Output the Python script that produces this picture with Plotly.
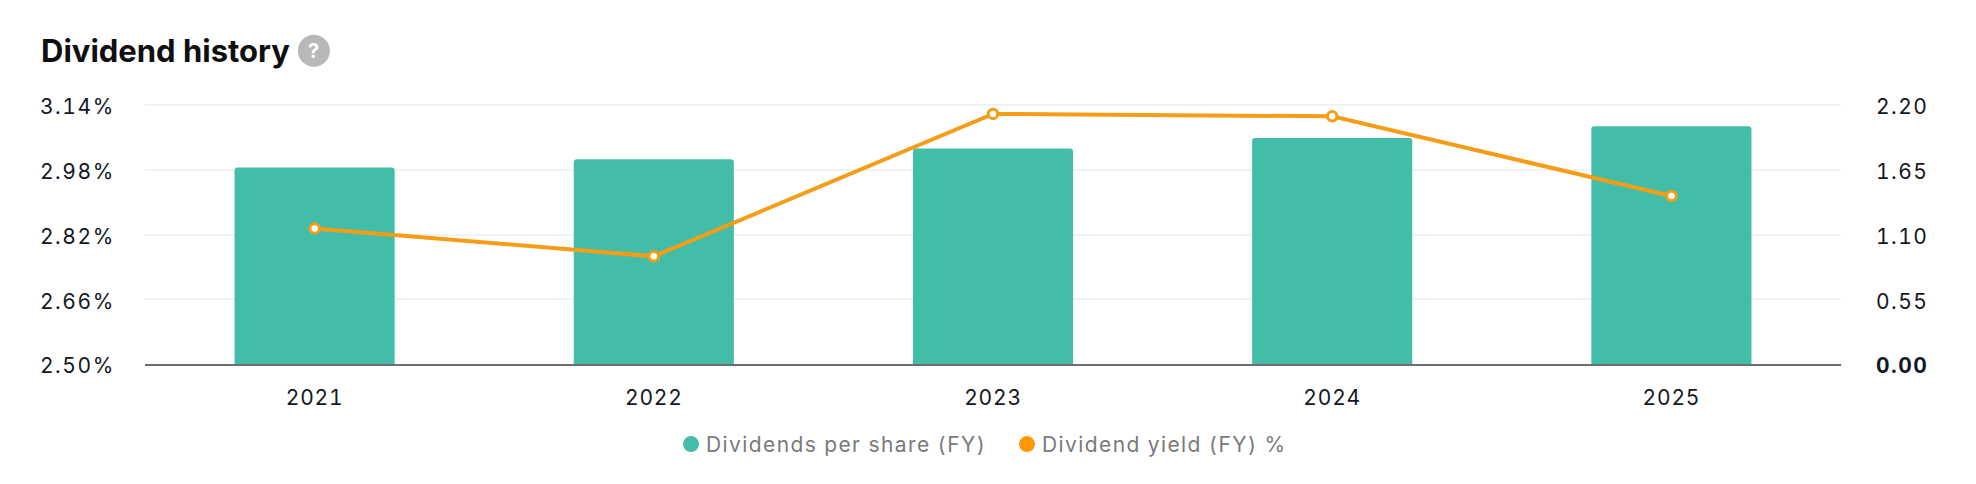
#!/usr/bin/env python3
"""Dividend history: dividends per share (bars) and dividend yield (line)."""
import plotly.graph_objects as go

# Data
YEARS = ['2021', '2022', '2023', '2024', '2025']
DIVIDENDS_PER_SHARE = [1.67, 1.74, 1.83, 1.92, 2.02]
DIVIDEND_YIELD = [2.835, 2.766, 3.118, 3.112, 2.915]

# Tick labels
YIELD_TICKS = [2.50, 2.66, 2.82, 2.98, 3.14]
YIELD_LABELS = ['2.50%', '2.66%', '2.82%', '2.98%', '3.14%']
DPS_TICKS = [0.00, 0.55, 1.10, 1.65, 2.20]
DPS_LABELS = ['0.00', '0.55', '1.10', '1.65', '2.20']

BAR_COLOR = '#42BDA8'
LINE_COLOR = '#F59D17'
LEGEND_ORANGE = '#FF9800'
TEXT_COLOR = '#131722'
FONT = 'Inter'


def spaced(text, px=1.6, drop=0):
    """Plotly has no letter spacing option, but span styles are passed on to the svg."""
    return (f'<span style="letter-spacing:{px}px;font-variant-numeric:tabular-nums;'
            f'baseline-shift:{-drop}px">{text}</span>')


fig = go.Figure()

# Bars sit on the primary axis so that the line is drawn above them
fig.add_trace(go.Bar(
    x=YEARS, y=DIVIDENDS_PER_SHARE, width=0.472,
    marker=dict(color=BAR_COLOR, cornerradius=3, line=dict(width=0)),
    yaxis='y', showlegend=False,
))
fig.add_trace(go.Scatter(
    x=YEARS, y=DIVIDEND_YIELD, mode='lines+markers',
    line=dict(color=LINE_COLOR, width=4),
    marker=dict(color='white', size=9.5, line=dict(color=LINE_COLOR, width=3)),
    yaxis='y2', showlegend=False,
))
# Legend only entries, the reference uses round swatches for both series.
# angle + standoff nudges the swatch towards its text
fig.add_trace(go.Scatter(
    x=[None], y=[None], mode='markers', name=spaced('Dividends per share (FY)', 1.4),
    marker=dict(color=BAR_COLOR, size=16, angle=90, standoff=5), yaxis='y',
))
fig.add_trace(go.Scatter(
    x=[None], y=[None], mode='markers', name=spaced('Dividend yield (FY) %', 1.4),
    marker=dict(color=LEGEND_ORANGE, size=16, angle=90, standoff=5), yaxis='y2',
))

fig.update_layout(
    width=1960, height=468,
    margin=dict(l=137, r=127, t=95, b=111),
    paper_bgcolor='white', plot_bgcolor='white',
    font=dict(family=FONT, size=21, color=TEXT_COLOR),
    xaxis=dict(
        type='category', range=[-0.5, 4.5], showgrid=False, ticks='',
        tickvals=YEARS, ticktext=[spaced(y, 0.8) for y in YEARS],
        showline=True, linecolor='#6E6E6E', linewidth=2, ticklabelstandoff=14,
    ),
    # the ranges run 2px past the top tick, plotly drops a gridline on the very edge
    yaxis=dict(
        side='right', range=[0, 2.217], tickvals=DPS_TICKS,
        ticktext=[f'<b>{spaced(DPS_LABELS[0], 1.5, 2)}</b>'] + [spaced(t, 1.5, 2) for t in DPS_LABELS[1:]],
        showgrid=True, gridcolor='#F1F2F2', gridwidth=2, zeroline=False,
        ticks='', ticklabelstandoff=34,
    ),
    yaxis2=dict(
        side='left', overlaying='y', range=[2.5, 3.1449], tickvals=YIELD_TICKS,
        ticktext=[spaced(t, drop=2) for t in YIELD_LABELS], showgrid=False, zeroline=False,
        ticks='', ticklabelstandoff=29,
    ),
    legend=dict(
        orientation='h', x=0.3125, xanchor='left', y=-0.303, yanchor='middle',
        font=dict(size=21, color='#7A7A7A'), indentation=-9, entrywidth=300,
        itemsizing='trace', bgcolor='rgba(0,0,0,0)',
    ),
    annotations=[
        dict(
            text='<b>Dividend history</b>', xref='paper', yref='paper',
            x=-0.0625, xanchor='left', y=1.2, yanchor='middle',
            showarrow=False, font=dict(size=31, color='#0F0F0F'),
        ),
        dict(
            text='<b>?</b>', xref='paper', yref='paper',
            x=0.0996, xanchor='center', y=1.2, yanchor='middle',
            showarrow=False, font=dict(size=20, color='white'),
        ),
    ],
    shapes=[dict(
        type='circle', xref='paper', yref='paper', layer='below',
        xsizemode='pixel', ysizemode='pixel', xanchor=0.0996, yanchor=1.2,
        x0=-16, x1=16, y0=-16, y1=16, fillcolor='#B8B8B8', line=dict(width=0),
    )],
)

fig.write_html("out.html")
